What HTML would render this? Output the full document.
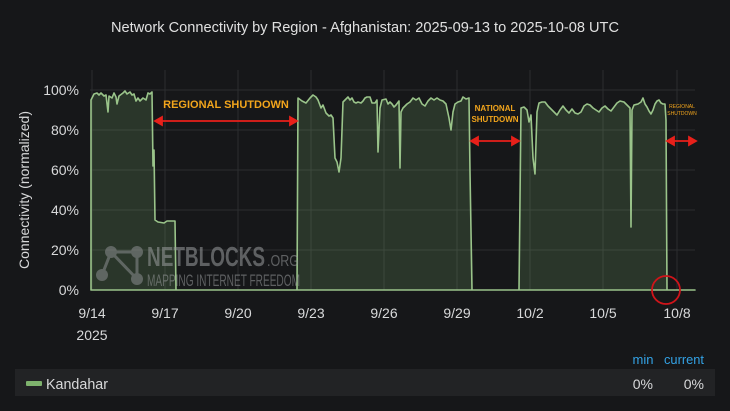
<!DOCTYPE html>
<html><head><meta charset="utf-8"><style>
html,body{margin:0;padding:0;background:#161719;}
body{width:730px;height:411px;overflow:hidden;position:relative;font-family:"Liberation Sans",sans-serif;}
</style></head><body>
<svg width="730" height="411" xmlns="http://www.w3.org/2000/svg" style="position:absolute;left:0;top:0">
<rect width="730" height="411" fill="#161719"/>
<text x="365" y="32" fill="#e0e0e0" font-size="15" text-anchor="middle" textLength="508" lengthAdjust="spacingAndGlyphs">Network Connectivity by Region - Afghanistan: 2025-09-13 to 2025-10-08 UTC</text>
<g stroke="#2c2d30" stroke-width="1">
<line x1="90" y1="90" x2="695" y2="90"/><line x1="90" y1="130" x2="695" y2="130"/><line x1="90" y1="170" x2="695" y2="170"/><line x1="90" y1="210" x2="695" y2="210"/><line x1="90" y1="250" x2="695" y2="250"/><line x1="90" y1="290" x2="695" y2="290"/>
<line x1="92" y1="70" x2="92" y2="290"/><line x1="165" y1="70" x2="165" y2="290"/><line x1="238" y1="70" x2="238" y2="290"/><line x1="311" y1="70" x2="311" y2="290"/><line x1="384" y1="70" x2="384" y2="290"/><line x1="457" y1="70" x2="457" y2="290"/><line x1="530" y1="70" x2="530" y2="290"/><line x1="603" y1="70" x2="603" y2="290"/><line x1="677" y1="70" x2="677" y2="290"/>
</g>
<g fill="#d8d9da" font-size="14" text-anchor="end" font-family="Liberation Sans Narrow,Liberation Sans,sans-serif">
<text x="79" y="95">100%</text><text x="79" y="135">80%</text><text x="79" y="175">60%</text><text x="79" y="215">40%</text><text x="79" y="255">20%</text><text x="79" y="295">0%</text>
</g>
<text transform="translate(29,190) rotate(-90)" fill="#d8d9da" font-size="14" text-anchor="middle" textLength="158" lengthAdjust="spacingAndGlyphs">Connectivity (normalized)</text>
<g fill="#d8d9da" font-size="14" text-anchor="middle">
<text x="92" y="318">9/14</text><text x="92" y="340">2025</text><text x="165" y="318">9/17</text><text x="238" y="318">9/20</text><text x="311" y="318">9/23</text><text x="384" y="318">9/26</text><text x="457" y="318">9/29</text><text x="530" y="318">10/2</text><text x="603" y="318">10/5</text><text x="677" y="318">10/8</text>
</g>
<path d="M91,100 L94,94 L97,93 L99,95 L101,93 L104,96 L106,95 L108,112 L109,96 L112,98 L114,93 L116,97 L117,104 L119,96 L123,93 L125,91 L127,94 L130,92 L132,95 L134,94 L136,101 L138,98 L140,101 L143,98 L146,100 L148,93 L150,94 L152,92 L153,166 L154,150 L155,220 L158,222 L164,223 L167,221 L173,221 L175,221 L176,290 L297,290 L298,98 L302,101 L306,103 L310,98 L313,95 L316,97 L318,100 L321,108 L323,105 L326,113 L329,116 L331,115 L333,118 L335,158 L337,162 L339,172 L341,158 L343,102 L345,100 L348,97 L350,100 L352,98 L354,102 L356,103 L358,102 L361,103 L363,101 L365,98 L367,97 L370,97 L372,103 L375,103 L377,100 L378,152 L380,108 L382,100 L386,99 L388,104 L390,102 L392,104 L394,107 L396,105 L399,101 L400,168 L401,112 L403,108 L407,104 L410,102 L413,98 L416,100 L419,98 L422,104 L425,106 L428,101 L431,98 L434,100 L437,98 L440,100 L443,101 L446,104 L449,118 L451,130 L453,112 L455,104 L458,102 L461,101 L463,97 L466,99 L469,98 L470,172 L472,290 L519,290 L521,108 L524,107 L527,110 L529,122 L531,115 L533,158 L535,174 L537,112 L539,103 L542,102 L545,102 L548,106 L551,109 L554,112 L557,115 L560,110 L563,106 L566,110 L569,113 L572,109 L575,113 L578,114 L581,112 L584,106 L587,104 L590,105 L593,108 L596,110 L599,112 L602,108 L605,106 L608,109 L611,111 L614,107 L617,103 L620,101 L624,102 L628,106 L630,108 L631,227 L632,110 L634,105 L638,104 L641,102 L643,98 L645,104 L647,107 L649,111 L651,114 L653,110 L655,104 L657,101 L659,100 L661,103 L663,104 L665,104 L666,120 L667,290 L695,290 L695,290 L91,290 Z" fill="#7eb26d" fill-opacity="0.2" stroke="#9ac48a" stroke-width="1.6" stroke-linejoin="round"/>
<g fill="#8c8e90" opacity="0.55">
<circle cx="111" cy="252" r="6"/><circle cx="137" cy="252" r="6"/><circle cx="102" cy="275" r="6"/><circle cx="137" cy="279" r="6"/>
<path d="M111,252 L137,252 M111,252 L102,275 M111,252 L137,279 M137,252 L137,279" stroke="#8c8e90" stroke-width="3"/>
<text x="147" y="266" font-size="28" font-weight="bold" fill="#9a9c9e" textLength="118" lengthAdjust="spacingAndGlyphs">NETBLOCKS</text>
<text x="267" y="266" font-size="16" fill="#9a9c9e" textLength="32" lengthAdjust="spacingAndGlyphs">.ORG</text>
<text x="147" y="286" font-size="17" fill="#9a9c9e" textLength="153" lengthAdjust="spacingAndGlyphs">MAPPING INTERNET FREEDOM</text>
</g>
<text x="226" y="108" fill="#f2a51c" font-size="11" font-weight="bold" text-anchor="middle">REGIONAL SHUTDOWN</text>
<g stroke="#e8201a" stroke-width="1.8" fill="#e8201a">
<line x1="158" y1="121" x2="294" y2="121"/><path d="M155,121 L162,117 L162,125 Z"/><path d="M297,121 L290,117 L290,125 Z"/>
<line x1="474" y1="141" x2="516" y2="141"/><path d="M471,141 L478,137 L478,145 Z"/><path d="M519,141 L512,137 L512,145 Z"/>
<line x1="670" y1="141" x2="693" y2="141"/><path d="M667,141 L674,137 L674,145 Z"/><path d="M696,141 L689,137 L689,145 Z"/>
</g>
<text x="495" y="111" fill="#f2a51c" font-size="8" font-weight="bold" text-anchor="middle">NATIONAL</text>
<text x="495" y="122" fill="#f2a51c" font-size="8" font-weight="bold" text-anchor="middle">SHUTDOWN</text>
<text x="682" y="108" fill="#f2a51c" font-size="5" text-anchor="middle">REGIONAL</text>
<text x="682" y="115" fill="#f2a51c" font-size="5" text-anchor="middle">SHUTDOWN</text>
<circle cx="666" cy="290" r="14" fill="none" stroke="#d0141a" stroke-width="1.8"/>
<text x="643" y="364" fill="#33a2e5" font-size="13" text-anchor="middle">min</text>
<text x="684" y="364" fill="#33a2e5" font-size="13" text-anchor="middle" textLength="40" lengthAdjust="spacingAndGlyphs">current</text>
<rect x="15" y="369" width="700" height="27" fill="#222325"/>
<rect x="26" y="381" width="16" height="5" rx="1" fill="#7eb26d"/>
<text x="46" y="389" fill="#d8d9da" font-size="15" textLength="62" lengthAdjust="spacingAndGlyphs">Kandahar</text>
<text x="653" y="389" fill="#d8d9da" font-size="14" text-anchor="end">0%</text>
<text x="704" y="389" fill="#d8d9da" font-size="14" text-anchor="end">0%</text>
</svg>
</body></html>
